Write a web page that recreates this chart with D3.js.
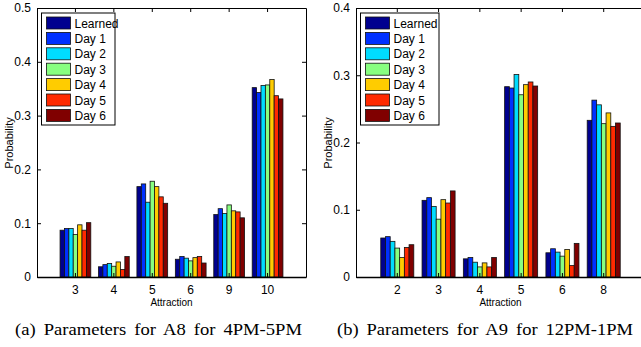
<!DOCTYPE html>
<html>
<head>
<meta charset="utf-8">
<script src="https://cdn.jsdelivr.net/npm/d3@7"></script>
<style>
  body { margin: 0; background: #fff; }
  svg { display: block; }
</style>
</head>
<body>
<div id="chart"></div>
<script>
var series = ["Learned", "Day 1", "Day 2", "Day 3", "Day 4", "Day 5", "Day 6"];
var colors = ["#00008f", "#0030ff", "#00dcff", "#88ff80", "#ffcc00", "#ff2a00", "#800000"];

// panel (a)
var catsA = ["3", "4", "5", "6", "9", "10"];
var valuesA = [
  [0.087, 0.090, 0.090, 0.079, 0.097, 0.087, 0.101],
  [0.019, 0.023, 0.025, 0.020, 0.028, 0.014, 0.038],
  [0.168, 0.173, 0.139, 0.178, 0.168, 0.149, 0.137],
  [0.033, 0.038, 0.035, 0.030, 0.036, 0.038, 0.026],
  [0.116, 0.127, 0.118, 0.134, 0.123, 0.121, 0.110],
  [0.352, 0.343, 0.356, 0.357, 0.367, 0.337, 0.331]
];
var yTicksA = [0, 0.1, 0.2, 0.3, 0.4, 0.5];

// panel (b)
var catsB = ["2", "3", "4", "5", "6", "8"];
var valuesB = [
  [0.058, 0.060, 0.053, 0.043, 0.029, 0.044, 0.048],
  [0.114, 0.118, 0.105, 0.086, 0.115, 0.110, 0.128],
  [0.027, 0.029, 0.022, 0.015, 0.021, 0.015, 0.029],
  [0.283, 0.281, 0.301, 0.271, 0.286, 0.290, 0.284],
  [0.036, 0.042, 0.037, 0.031, 0.041, 0.017, 0.050],
  [0.233, 0.263, 0.256, 0.228, 0.244, 0.224, 0.229]
];
var yTicksB = [0, 0.1, 0.2, 0.3, 0.4];

var captions = ["(a) Parameters for A8 for 4PM-5PM", "(b) Parameters for A9 for 12PM-1PM"];

var W = 641, H = 347;
var narrow = "Liberation Sans Narrow, Liberation Sans, Arial";
var svg = d3.select("#chart").append("svg").attr("width", W).attr("height", H);

function panel(opt) {
  var left = opt.left, right = opt.right, top = 8, bottom = 277;
  var g = svg.append("g");

  var x = d3.scaleBand().domain(opt.cats).range([left, right])
    .paddingInner(0.2).paddingOuter(0.6);
  var xs = d3.scaleBand().domain(series).range([0, x.bandwidth()]).padding(0);
  var y = d3.scaleLinear().domain([0, opt.ymax]).range([bottom, top]);

  // bars
  var grp = g.selectAll(".grp").data(opt.values).enter().append("g")
    .attr("transform", function(d, i) { return "translate(" + x(opt.cats[i]) + ",0)"; });
  grp.selectAll("rect").data(function(d) { return d; }).enter().append("rect")
    .attr("x", function(d, j) { return xs(series[j]); })
    .attr("y", function(d) { return y(d); })
    .attr("width", xs.bandwidth())
    .attr("height", function(d) { return y(0) - y(d); })
    .attr("fill", function(d, j) { return colors[j]; })
    .attr("stroke", "#111").attr("stroke-width", 0.8);

  // axes, matlab style ticks inside
  var xAxis = d3.axisBottom(x).tickSizeInner(-4).tickSizeOuter(0).tickPadding(8);
  var gx = g.append("g").attr("transform", "translate(0," + bottom + ")").call(xAxis);
  gx.selectAll("text").attr("font-size", 12).attr("font-family", narrow).attr("fill", "#000");
  gx.select(".domain").attr("stroke-width", 1.6);

  g.append("g").attr("transform", "translate(0," + top + ")")
    .call(d3.axisTop(x).tickSizeInner(-4).tickSizeOuter(0).tickFormat(""));

  var yAxis = d3.axisLeft(y).tickValues(opt.yticks).tickSizeInner(-4).tickSizeOuter(0)
    .tickPadding(6).tickFormat(function(d) { return d === 0 ? "0" : d3.format(".1f")(d); });
  var gy = g.append("g").attr("transform", "translate(" + left + ",0)").call(yAxis);
  gy.selectAll("text").attr("font-size", 12).attr("font-family", narrow).attr("fill", "#000");

  g.append("g").attr("transform", "translate(" + right + ",0)")
    .call(d3.axisRight(y).tickValues(opt.yticks).tickSizeInner(-4).tickSizeOuter(0).tickFormat(""));

  // axis titles
  g.append("text").attr("x", (left + right) / 2).attr("y", 306)
    .attr("text-anchor", "middle").attr("font-family", narrow)
    .attr("font-size", 10).text("Attraction");
  g.append("text").attr("transform", "translate(" + opt.ylabX + ",143) rotate(-90)")
    .attr("text-anchor", "middle").attr("font-family", "Liberation Sans, Arial")
    .attr("font-size", 11).text("Probability");

  // legend
  var lg = g.append("g").attr("transform", "translate(" + opt.legX + ",13)");
  lg.append("rect").attr("width", opt.legW).attr("height", 112)
    .attr("fill", "#fff").attr("stroke", "#000").attr("stroke-width", 1);
  var item = lg.selectAll(".li").data(series).enter().append("g")
    .attr("transform", function(d, i) { return "translate(5," + (4 + i * 15.4) + ")"; });
  item.append("rect").attr("width", 24).attr("height", 12)
    .attr("fill", function(d, i) { return colors[i]; })
    .attr("stroke", "#111").attr("stroke-width", 0.8);
  item.append("text").attr("x", 28).attr("y", 10.5)
    .attr("font-family", narrow)
    .attr("font-size", 12).text(function(d) { return d; });

  // caption (reference looks stretched sideways, so fit to measured width)
  svg.append("text").attr("x", opt.capX - opt.capW / 2).attr("y", 335)
    .attr("font-family", "Liberation Serif, Times New Roman, serif")
    .attr("font-size", 16.5).attr("word-spacing", 3)
    .attr("textLength", opt.capW).attr("lengthAdjust", "spacingAndGlyphs")
    .text(opt.caption);
}

panel({ left: 37, right: 306, cats: catsA, values: valuesA, ymax: 0.5, yticks: yTicksA,
        ylabX: 13, legX: 41.5, legW: 73.5, capX: 158.5, capW: 287, caption: captions[0] });
panel({ left: 356, right: 645, cats: catsB, values: valuesB, ymax: 0.4, yticks: yTicksB,
        ylabX: 332, legX: 360.5, legW: 78.5, capX: 485, capW: 296, caption: captions[1] });
</script>
</body>
</html>
